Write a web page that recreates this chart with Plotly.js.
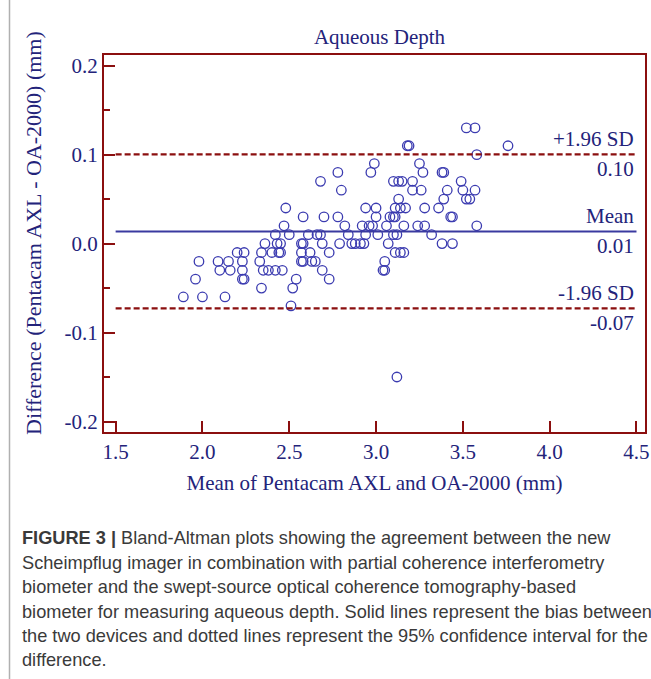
<!DOCTYPE html>
<html><head><meta charset="utf-8">
<script src="https://cdn.plot.ly/plotly-3.0.1.min.js"></script>
<style>html,body{margin:0;padding:0;background:#fff;} #chart{width:651px;height:679px;}</style>
</head><body><div id="chart"></div>
<script>
// Mean of the two methods (mm) and their difference (mm)
const meanOfMethods = [
  3.52, 3.57,
  3.18, 3.19, 3.76,
  3.58,
  2.99, 3.25,
  2.78, 2.97, 3.27, 3.38, 3.39,
  2.68, 3.10, 3.13, 3.15, 3.21, 3.49,
  2.80, 3.21, 3.26, 3.41, 3.50, 3.57,
  3.13, 3.39, 3.52, 3.54,
  2.48, 2.94, 3.00, 3.11, 3.14, 3.17, 3.28, 3.36,
  2.58, 2.70, 2.78, 3.00, 3.08, 3.10, 3.11, 3.43, 3.44,
  2.47, 2.82, 2.92, 2.96, 2.98, 3.06, 3.16, 3.24, 3.28, 3.58,
  2.42, 2.50, 2.61, 2.66, 2.68, 2.84, 2.94, 3.01, 3.10, 3.12, 3.32,
  2.36, 2.43, 2.45, 2.57, 2.58, 2.69, 2.79, 2.86, 2.88, 2.91, 2.93, 3.07, 3.38, 3.44,
  2.20, 2.24, 2.34, 2.40, 2.44, 2.45, 2.57, 2.62, 2.73, 3.11, 3.14, 3.16,
  1.98, 2.09, 2.15, 2.23, 2.33, 2.57, 2.58, 2.63, 2.65, 3.05,
  2.10, 2.16, 2.23, 2.35, 2.38, 2.42, 2.46, 2.69, 3.04, 3.05,
  1.96, 2.23, 2.24, 2.54, 2.73,
  2.34, 2.52,
  1.89, 2.00, 2.13,
  2.51,
  3.12
];
const difference = [
  0.13, 0.13,
  0.11, 0.11, 0.11,
  0.10,
  0.09, 0.09,
  0.08, 0.08, 0.08, 0.08, 0.08,
  0.07, 0.07, 0.07, 0.07, 0.07, 0.07,
  0.06, 0.06, 0.06, 0.06, 0.06, 0.06,
  0.05, 0.05, 0.05, 0.05,
  0.04, 0.04, 0.04, 0.04, 0.04, 0.04, 0.04, 0.04,
  0.03, 0.03, 0.03, 0.03, 0.03, 0.03, 0.03, 0.03, 0.03,
  0.02, 0.02, 0.02, 0.02, 0.02, 0.02, 0.02, 0.02, 0.02, 0.02,
  0.01, 0.01, 0.01, 0.01, 0.01, 0.01, 0.01, 0.01, 0.01, 0.01, 0.01,
  0.00, 0.00, 0.00, 0.00, 0.00, 0.00, 0.00, 0.00, 0.00, 0.00, 0.00, 0.00, 0.00, 0.00,
  -0.01, -0.01, -0.01, -0.01, -0.01, -0.01, -0.01, -0.01, -0.01, -0.01, -0.01, -0.01,
  -0.02, -0.02, -0.02, -0.02, -0.02, -0.02, -0.02, -0.02, -0.02, -0.02,
  -0.03, -0.03, -0.03, -0.03, -0.03, -0.03, -0.03, -0.03, -0.03, -0.03,
  -0.04, -0.04, -0.04, -0.04, -0.04,
  -0.05, -0.05,
  -0.06, -0.06, -0.06,
  -0.07,
  -0.15
];
const lineLevels = [0.1002, 0.0137, -0.0728];   // +1.96 SD, Mean, -1.96 SD
const lineNames = ['+1.96 SD', 'Mean', '-1.96 SD'];
const lineValueText = ['0.10', '0.01', '-0.07'];
const lineSpan = [1.5, 4.5];
const xTickVals = [1.5, 2.0, 2.5, 3.0, 3.5, 4.0, 4.5];
const xTickText = ['1.5', '2.0', '2.5', '3.0', '3.5', '4.0', '4.5'];
const yTickVals = [-0.2, -0.1, 0.0, 0.1, 0.2];
const yTickText = ['-0.2', '-0.1', '0.0', '0.1', '0.2'];
const yMinorVals = [-0.15, -0.05, 0.05, 0.15];
const yTitleText = 'Difference (Pentacam AXL - OA-2000) (mm)';
const captionLines = [
  '<b>FIGURE 3 |</b> Bland-Altman plots showing the agreement between the new',
  'Scheimpflug imager in combination with partial coherence interferometry',
  'biometer and the swept-source optical coherence tomography-based',
  'biometer for measuring aqueous depth. Solid lines represent the bias between',
  'the two devices and dotted lines represent the 95% confidence interval for the',
  'difference.'
];

const FRAME = '#8b0f0f';
const NAVY = '#23237a';
const BLUE = '#3b3bb0';
const SERIF = 'Liberation Serif, Times New Roman, serif';
const SANS = 'Liberation Sans, Arial, sans-serif';

const W = 651, H = 679;
const M = {l: 104, r: 6, t: 55, b: 247};
const plotH = H - M.t - M.b, plotW = W - M.l - M.r;
const pyToPaper = py => (H - M.b - py) / plotH;
const pxToPaper = px => (px - M.l) / plotW;

const traces = [{
  type: 'scatter', mode: 'markers',
  x: meanOfMethods, y: difference,
  marker: {symbol: 'circle', size: 9.5, color: 'rgba(0,0,0,0)', line: {color: BLUE, width: 1.3}},
  hoverinfo: 'x+y', showlegend: false
}];
lineLevels.forEach((v, i) => {
  traces.push({
    type: 'scatter', mode: 'lines',
    x: lineSpan, y: [v, v],
    line: i === 1 ? {color: '#3a3aa0', width: 2} : {color: FRAME, width: 2.2, dash: '6px,3px'},
    hoverinfo: 'skip', showlegend: false
  });
});

const annotations = [];
lineLevels.forEach((v, i) => {
  annotations.push({xref: 'x', yref: 'y', x: 4.5, y: v, xanchor: 'right', yanchor: 'middle',
    yshift: 15, showarrow: false, text: lineNames[i], font: {family: SERIF, size: 21, color: NAVY}});
  annotations.push({xref: 'x', yref: 'y', x: 4.5, y: v, xanchor: 'right', yanchor: 'middle',
    yshift: -15, showarrow: false, text: lineValueText[i], font: {family: SERIF, size: 21, color: NAVY}});
});
// y-axis title placed as rotated annotation
annotations.push({xref: 'paper', yref: 'paper', x: pxToPaper(33), y: pyToPaper(233),
  xanchor: 'center', yanchor: 'middle', textangle: -90, showarrow: false,
  text: yTitleText, font: {family: SERIF, size: 22, color: NAVY}});
const capY = [538, 563, 587, 612, 636, 660];
captionLines.forEach((t, i) => {
  annotations.push({xref: 'paper', yref: 'paper', x: pxToPaper(20), y: pyToPaper(capY[i]),
    xanchor: 'left', yanchor: 'middle', showarrow: false, align: 'left', text: t,
    font: {family: SANS, size: 18.2, color: '#3a3a3a'}});
});

const layout = {
  width: W, height: H, margin: M,
  paper_bgcolor: '#fff', plot_bgcolor: '#fff',
  title: {text: 'Aqueous Depth', font: {family: SERIF, size: 21, color: NAVY},
    xref: 'paper', x: pxToPaper(379.5), xanchor: 'center',
    yref: 'container', y: 1 - 37 / H, yanchor: 'middle'},
  xaxis: {
    range: [1.433, 4.549], showgrid: false, zeroline: false,
    showline: true, linecolor: FRAME, linewidth: 2, mirror: true,
    ticks: 'inside', ticklen: 11, tickwidth: 2, tickcolor: FRAME,
    tickmode: 'array', tickvals: xTickVals, ticktext: xTickText,
    tickfont: {family: SERIF, size: 21, color: NAVY},
    title: {text: 'Mean of Pentacam AXL and OA-2000 (mm)', font: {family: SERIF, size: 21, color: NAVY}, standoff: 12}
  },
  yaxis: {
    range: [-0.2118, 0.212], showgrid: false, zeroline: false,
    showline: true, linecolor: FRAME, linewidth: 2, mirror: true,
    ticks: 'inside', ticklen: 11, tickwidth: 2, tickcolor: FRAME,
    tickmode: 'array', tickvals: yTickVals, ticktext: yTickText,
    tickfont: {family: SERIF, size: 21, color: NAVY},
    minor: {ticks: 'inside', ticklen: 6, tickwidth: 2, tickcolor: FRAME, tickmode: 'array', tickvals: yMinorVals, showgrid: false}
  },
  shapes: [{type: 'line', xref: 'paper', yref: 'paper',
    x0: pxToPaper(9.5), x1: pxToPaper(9.5), y0: pyToPaper(H), y1: pyToPaper(0),
    line: {color: '#b0b0b0', width: 1.5}}],
  annotations: annotations
};

Plotly.newPlot('chart', traces, layout, {displayModeBar: false, staticPlot: true});
</script>
</body></html>
